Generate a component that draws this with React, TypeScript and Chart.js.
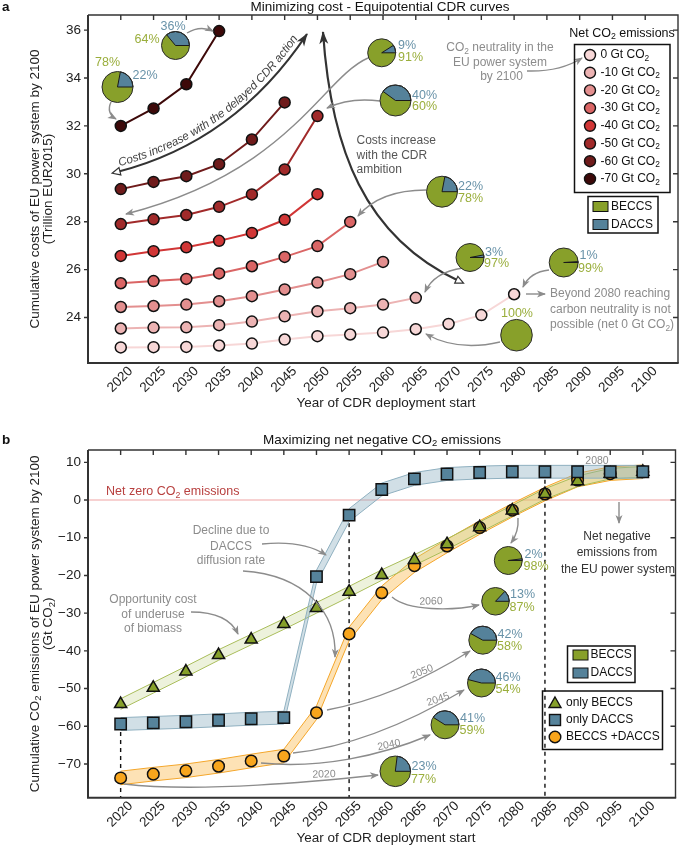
import React, { useEffect, useRef } from 'react';
import { Chart, registerables } from 'chart.js';

Chart.register(...registerables);

const FONT = '"Liberation Sans", Arial, Helvetica, sans-serif';

// ---------------- shared ----------------
const yearTicks = [2020, 2025, 2030, 2035, 2040, 2045, 2050, 2055, 2060, 2065, 2070, 2075, 2080, 2085, 2090, 2095, 2100];

// ---------------- panel a data ----------------
const costTicks = [24, 26, 28, 30, 32, 34, 36];
const netLabels = ['0 Gt CO₂', '-10 Gt CO₂', '-20 Gt CO₂', '-30 Gt CO₂', '-40 Gt CO₂', '-50 Gt CO₂', '-60 Gt CO₂', '-70 Gt CO₂'];
const netColors = ['#f7d7d7', '#ecb3b3', '#e38f8f', '#da6565', '#d13636', '#a12a2a', '#6f1b1b', '#3d0909'];
const cost0 = [22.75, 22.76, 22.77, 22.83, 22.91, 23.08, 23.22, 23.29, 23.37, 23.51, 23.73, 24.10, 24.97];
const costM10 = [23.54, 23.58, 23.59, 23.68, 23.83, 24.05, 24.26, 24.39, 24.54, 24.82];
const costM20 = [24.44, 24.48, 24.54, 24.68, 24.89, 25.17, 25.46, 25.81, 26.32];
const costM30 = [25.43, 25.52, 25.61, 25.84, 26.14, 26.53, 26.98, 27.99];
const costM40 = [26.57, 26.77, 26.93, 27.20, 27.53, 28.08, 29.15];
const costM50 = [27.90, 28.10, 28.28, 28.62, 29.14, 30.18, 32.41];
const costM60 = [29.36, 29.66, 29.90, 30.40, 31.43, 32.98];
const costM70 = [32.00, 32.73, 33.74, 35.96];
const costSeries = [cost0, costM10, costM20, costM30, costM40, costM50, costM60, costM70];
// DACCS share (%) of the CDR mix shown by the inset pies of panel a
const piesADaccs = [22, 36, 9, 40, 22, 3, 1, 0];

// ---------------- panel b data ----------------
const emisTicks = [-70, -60, -50, -40, -30, -20, -10, 0, 10];
const onlyBeccs = [-54.1, -49.8, -45.5, -41.1, -37.0, -32.9, -28.6, -24.3, -19.9, -15.9, -11.7, -7.2, -2.8, 1.6, 5.0, 7.0, 7.5];
const onlyDaccs = [-59.4, -59.1, -58.8, -58.4, -58.0, -57.7, -20.3, -4.0, 2.8, 5.6, 6.9, 7.3, 7.5, 7.5, 7.5, 7.5, 7.5];
const beccsDaccs = [-73.7, -72.7, -71.8, -70.6, -69.2, -67.9, -56.4, -35.5, -24.6, -17.4, -12.2, -7.3, -2.7, 1.6, 5.3, 7.0, 7.5];
const piesBDaccs = [2, 13, 42, 46, 41, 23];
const piesBYears = ['2080', '2060', '2050', '2045', '2040', '2020'];
const markedYears = [2020, 2055, 2085];

// ---------------- styles ----------------
const GRAY = '#8c8c8c';
const DARK = '#333333';
const PIE_G = '#88a02a';
const PIE_B = '#55829a';
const TXT_G = '#9aae3c';
const TXT_B = '#6892a8';
const TRI = '#86a02a';
const SQ = '#56839b';
const CIR = '#f8a51c';

// ---------------- drawing helpers ----------------
function rich(ctx: any, s: string, x: number, y: number, o: any = {}) {
  const size = o.size || 12;
  const f = (sz: number) => `${o.style || 'normal'} ${o.weight || 'normal'} ${sz}px ${FONT}`;
  const parts = s.split('₂');
  ctx.save();
  ctx.textBaseline = o.baseline || 'middle';
  ctx.fillStyle = o.color || '#222';
  const segs: any[] = [];
  let total = 0;
  parts.forEach((p, i) => {
    ctx.font = f(size);
    const w = ctx.measureText(p).width;
    segs.push({ t: p, sz: size, dy: 0, w });
    total += w;
    if (i < parts.length - 1) {
      ctx.font = f(size * 0.7);
      const w2 = ctx.measureText('2').width;
      segs.push({ t: '2', sz: size * 0.7, dy: size * 0.28, w: w2 });
      total += w2;
    }
  });
  const align = o.align || 'left';
  ctx.translate(x, y);
  if (o.rot) ctx.rotate(o.rot);
  let cx = align === 'center' ? -total / 2 : align === 'right' ? -total : 0;
  ctx.textAlign = 'left';
  for (const sg of segs) {
    ctx.font = f(sg.sz);
    ctx.fillText(sg.t, cx, sg.dy);
    cx += sg.w;
  }
  ctx.restore();
}

function arrow(ctx: any, p: number[], color: string, width = 1.4, head = 8, headW = 3.5) {
  ctx.save();
  ctx.strokeStyle = color;
  ctx.fillStyle = color;
  ctx.lineWidth = width;
  ctx.lineCap = 'butt';
  ctx.beginPath();
  ctx.moveTo(p[0], p[1]);
  let px, py, ex, ey;
  if (p.length === 4) {
    ctx.lineTo(p[2], p[3]);
    px = p[0]; py = p[1]; ex = p[2]; ey = p[3];
  } else if (p.length === 6) {
    ctx.quadraticCurveTo(p[2], p[3], p[4], p[5]);
    px = p[2]; py = p[3]; ex = p[4]; ey = p[5];
  } else {
    ctx.bezierCurveTo(p[2], p[3], p[4], p[5], p[6], p[7]);
    px = p[4]; py = p[5]; ex = p[6]; ey = p[7];
  }
  ctx.stroke();
  const a = Math.atan2(ey - py, ex - px);
  const c = Math.cos(a), s = Math.sin(a);
  ctx.beginPath();
  ctx.moveTo(ex + c, ey + s);
  ctx.lineTo(ex - head * c + headW * s, ey - head * s - headW * c);
  ctx.lineTo(ex - head * 0.7 * c, ey - head * 0.7 * s);
  ctx.lineTo(ex - head * c - headW * s, ey - head * s + headW * c);
  ctx.closePath();
  ctx.fill();
  ctx.restore();
}

function openTri(ctx: any, x: number, y: number, ang: number, s: number) {
  ctx.save();
  ctx.translate(x, y);
  ctx.rotate(ang);
  ctx.beginPath();
  ctx.moveTo(s, 0);
  ctx.lineTo(-s * 0.6, -s * 0.75);
  ctx.lineTo(-s * 0.6, s * 0.75);
  ctx.closePath();
  ctx.fillStyle = '#fff';
  ctx.fill();
  ctx.strokeStyle = DARK;
  ctx.lineWidth = 1.2;
  ctx.stroke();
  ctx.restore();
}

function textOnQuad(ctx: any, s: string, p0: number[], c: number[], p1: number[], off: number, size: number, color: string, startS: number, maxLen: number) {
  const N = 400;
  const P: any[] = [{ x: p0[0], y: p0[1], s: 0 }];
  let L = 0;
  for (let i = 1; i <= N; i++) {
    const t = i / N, u = 1 - t;
    const x = u * u * p0[0] + 2 * u * t * c[0] + t * t * p1[0];
    const y = u * u * p0[1] + 2 * u * t * c[1] + t * t * p1[1];
    const pr = P[P.length - 1];
    L += Math.hypot(x - pr.x, y - pr.y);
    P.push({ x, y, s: L });
  }
  ctx.save();
  let fs = size;
  ctx.font = `italic ${fs}px ${FONT}`;
  const tw = ctx.measureText(s).width;
  if (tw > maxLen) {
    fs = (fs * maxLen) / tw;
    ctx.font = `italic ${fs}px ${FONT}`;
  }
  ctx.fillStyle = color;
  ctx.textAlign = 'center';
  ctx.textBaseline = 'alphabetic';
  let pos = startS;
  for (const ch of s) {
    const w = ctx.measureText(ch).width;
    const m = pos + w / 2;
    let j = 1;
    while (j < P.length - 1 && P[j].s < m) j++;
    const a = P[j - 1], b = P[j];
    const ang = Math.atan2(b.y - a.y, b.x - a.x);
    const fr = (m - a.s) / Math.max(1e-6, b.s - a.s);
    const x = a.x + (b.x - a.x) * fr + off * Math.sin(ang);
    const y = a.y + (b.y - a.y) * fr - off * Math.cos(ang);
    ctx.save();
    ctx.translate(x, y);
    ctx.rotate(ang);
    ctx.fillText(ch, 0, 0);
    ctx.restore();
    pos += w;
  }
  ctx.restore();
}

function pie(ctx: any, cx: number, cy: number, r: number, daccs: number) {
  ctx.save();
  ctx.beginPath();
  ctx.arc(cx, cy, r, 0, Math.PI * 2);
  ctx.fillStyle = PIE_G;
  ctx.fill();
  if (daccs > 0) {
    ctx.beginPath();
    ctx.moveTo(cx, cy);
    ctx.arc(cx, cy, r, 0, (-2 * Math.PI * daccs) / 100, true);
    ctx.closePath();
    ctx.fillStyle = PIE_B;
    ctx.fill();
    ctx.strokeStyle = '#1a1a1a';
    ctx.lineWidth = 1;
    ctx.stroke();
  }
  ctx.beginPath();
  ctx.arc(cx, cy, r, 0, Math.PI * 2);
  ctx.strokeStyle = '#2a2a2a';
  ctx.lineWidth = 1;
  ctx.stroke();
  ctx.restore();
}

function pieWithLabels(ctx: any, L: any, daccs: number) {
  pie(ctx, L.x, L.y, L.r, daccs);
  if (L.b) rich(ctx, `${daccs}%`, L.b[0], L.b[1], { size: 12.5, color: TXT_B, align: L.b[2] || 'left' });
  if (L.g) rich(ctx, `${100 - daccs}%`, L.g[0], L.g[1], { size: 12.5, color: TXT_G, align: L.g[2] || 'left' });
}

function drawFrame(ctx: any, chart: any, yticks: number[], fmt: (v: number) => string) {
  const { left, right, top, bottom } = chart.chartArea;
  const xs = chart.scales.x, ys = chart.scales.y;
  ctx.save();
  ctx.strokeStyle = DARK;
  ctx.lineWidth = 1.4;
  ctx.beginPath();
  ctx.moveTo(left, top);
  ctx.lineTo(right, top);
  ctx.lineTo(right, bottom);
  for (const yr of yearTicks) {
    const x = xs.getPixelForValue(yr);
    ctx.moveTo(x, top);
    ctx.lineTo(x, top + 5);
  }
  for (const v of yticks) {
    const y = ys.getPixelForValue(v);
    ctx.moveTo(left - 4, y);
    ctx.lineTo(left, y);
    ctx.moveTo(right, y);
    ctx.lineTo(right - 5, y);
  }
  ctx.stroke();
  ctx.lineWidth = 2;
  ctx.beginPath();
  ctx.moveTo(left, top);
  ctx.lineTo(left, bottom);
  ctx.lineTo(right + 0.7, bottom);
  ctx.stroke();
  ctx.fillStyle = '#222';
  ctx.font = `13.5px ${FONT}`;
  ctx.textAlign = 'right';
  ctx.textBaseline = 'middle';
  for (const v of yticks) ctx.fillText(fmt(v), left - 7, ys.getPixelForValue(v));
  for (const yr of yearTicks) {
    const x = xs.getPixelForValue(yr);
    ctx.save();
    ctx.translate(x + 10, bottom + 6);
    ctx.rotate(-Math.PI / 4);
    ctx.fillText(String(yr), 0, 0);
    ctx.restore();
  }
  ctx.restore();
}

// ---------------- panel a layout (pixels on canvas a) ----------------
const pieLayoutA = [
  { x: 117.5, y: 87, r: 15.5, g: [107.5, 63, 'center'], b: [145, 76, 'center'] },
  { x: 175.5, y: 45.5, r: 14, g: [147, 40, 'center'], b: [173, 27, 'center'] },
  { x: 381.7, y: 52.8, r: 14, b: [398, 46], g: [398, 57.5] },
  { x: 395.5, y: 100.5, r: 15.5, b: [412, 95.5], g: [412, 107] },
  { x: 442, y: 191.7, r: 15.5, b: [458, 187], g: [458, 199] },
  { x: 470, y: 257.5, r: 14, b: [485, 252.5], g: [484, 263.5] },
  { x: 563.7, y: 262.5, r: 14.5, b: [579.5, 256], g: [578, 268.5] },
  { x: 516.5, y: 335.2, r: 15.8, g: [517, 313.3, 'center'] },
];

// ---------------- panel b layout (page pixels) ----------------
const pieLayoutB = [
  { x: 508.3, y: 560.5, r: 14, b: [524.5, 555], g: [523.5, 566.7] },
  { x: 495.5, y: 601.3, r: 13.8, b: [510, 595], g: [509.5, 607.7] },
  { x: 482.8, y: 640.2, r: 14, b: [497.5, 635], g: [497, 646.7] },
  { x: 481.5, y: 683, r: 14, b: [495.5, 677.3], g: [495.5, 690] },
  { x: 445, y: 724.8, r: 14, b: [460, 719], g: [459.5, 731] },
  { x: 395.3, y: 771.3, r: 15.3, b: [411.5, 766.7], g: [411, 780] },
];
const yearLabelLayoutB = [
  null,
  { x: 431, y: 601.5, rot: -0.03 },
  { x: 422, y: 672, rot: -0.38 },
  { x: 438, y: 699.5, rot: -0.33 },
  { x: 389, y: 745, rot: -0.2 },
  { x: 324, y: 774.5, rot: -0.04 },
];
const yearArrowsB = [
  [518, 518, 519, 532, 511, 543],
  [392, 597, 408, 611, 452, 611, 479, 605],
  [327, 710, 380, 700, 430, 676, 470, 651],
  [293, 753, 360, 746, 420, 716, 464, 690],
  [261, 763, 320, 769, 380, 756, 430, 735],
  [124, 784, 200, 793, 320, 781, 378, 775],
];

// ---------------- plugins ----------------
const overlayA = {
  id: 'overlayA',
  afterDraw(chart: any) {
    const ctx = chart.ctx;
    const { top, bottom } = chart.chartArea;
    drawFrame(ctx, chart, costTicks, (v) => String(v));

    // titles
    rich(ctx, 'a', 2, 7, { size: 13.5, weight: 'bold', color: '#111' });
    rich(ctx, 'Minimizing cost - Equipotential CDR curves', 380, 7, { size: 13.5, align: 'center', color: '#111' });
    const midY = (top + bottom) / 2;
    rich(ctx, 'Cumulative costs of EU power system by 2100', 35, midY, { size: 13.5, align: 'center', rot: -Math.PI / 2 });
    rich(ctx, '(Trillion EUR2015)', 48.5, midY, { size: 13.5, align: 'center', rot: -Math.PI / 2 });
    rich(ctx, 'Year of CDR deployment start', 386, 403.5, { size: 13.5, align: 'center' });

    // big dark arrows
    ctx.save();
    ctx.strokeStyle = DARK;
    arrow(ctx, [117, 172, 235, 142, 307, 34], DARK, 2.2, 12, 4.5);
    openTri(ctx, 117, 172, Math.atan2(142 - 172, 235 - 117) + Math.PI, 5);
    textOnQuad(ctx, 'Costs increase with the delayed CDR action', [117, 172], [235, 142], [307, 34], 5, 12, '#444', 4, 228);
    arrow(ctx, [459, 281, 365, 237, 331, 150, 323, 32], DARK, 2.2, 12, 4.5);
    openTri(ctx, 459, 281, Math.atan2(281 - 237, 459 - 365), 5);
    ctx.restore();
    rich(ctx, 'Costs increase', 356.5, 141, { size: 12, color: '#555' });
    rich(ctx, 'with the CDR', 356.5, 155.7, { size: 12, color: '#555' });
    rich(ctx, 'ambition', 356.5, 170, { size: 12, color: '#555' });

    // gray annotation text
    rich(ctx, 'CO₂ neutrality in the', 500, 48, { size: 12, color: GRAY, align: 'center' });
    rich(ctx, 'EU power system', 500, 62.5, { size: 12, color: GRAY, align: 'center' });
    rich(ctx, 'by 2100', 501.5, 77, { size: 12, color: GRAY, align: 'center' });
    rich(ctx, 'Beyond 2080 reaching', 550, 294, { size: 12, color: GRAY });
    rich(ctx, 'carbon neutrality is not', 550, 309.5, { size: 12, color: GRAY });
    rich(ctx, 'possible (net 0 Gt CO₂)', 550, 325, { size: 12, color: GRAY });

    // gray arrows
    arrow(ctx, [187, 33, 200, 25, 213, 31], GRAY);
    arrow(ctx, [111, 102, 106, 113, 116, 119], GRAY);
    arrow(ctx, [368, 58, 322, 78, 290, 172, 126, 214], GRAY);
    arrow(ctx, [380, 101, 350, 97, 327, 108], GRAY);
    arrow(ctx, [426, 190, 380, 190, 358, 216], GRAY);
    arrow(ctx, [463, 268, 434, 272, 425, 292], GRAY);
    arrow(ctx, [549, 270, 530, 272, 523, 287], GRAY);
    arrow(ctx, [500, 342, 458, 352, 426, 334], GRAY);
    arrow(ctx, [527, 71, 560, 72, 582, 58], GRAY);
    arrow(ctx, [526, 294, 545, 294], GRAY);

    // pies
    piesADaccs.forEach((d, i) => pieWithLabels(ctx, pieLayoutA[i], d));

    // legend: net CO2
    ctx.save();
    rich(ctx, 'Net CO₂ emissions', 622, 33.5, { size: 12.5, align: 'center', color: '#111' });
    ctx.strokeStyle = '#111';
    ctx.lineWidth = 1.5;
    ctx.strokeRect(574.5, 44.5, 95.5, 148);
    netLabels.forEach((lab, i) => {
      const y = 55 + i * 17.7;
      ctx.beginPath();
      ctx.arc(590, y, 5.5, 0, Math.PI * 2);
      ctx.fillStyle = netColors[i];
      ctx.fill();
      ctx.lineWidth = 1.4;
      ctx.strokeStyle = '#111';
      ctx.stroke();
      rich(ctx, lab, 600.5, y, { size: 12, color: '#111' });
    });
    // legend: BECCS/DACCS
    ctx.lineWidth = 1.5;
    ctx.strokeRect(588, 196.5, 70, 36.5);
    [['BECCS', PIE_G, 206.5], ['DACCS', PIE_B, 224.5]].forEach(([lab, col, y]: any) => {
      ctx.fillStyle = col;
      ctx.fillRect(593, y - 5, 15, 10);
      ctx.lineWidth = 1;
      ctx.strokeStyle = '#111';
      ctx.strokeRect(593, y - 5, 15, 10);
      rich(ctx, lab, 611, y, { size: 12, color: '#111' });
    });
    ctx.restore();
  },
};

const underlayB = {
  id: 'underlayB',
  beforeDatasetsDraw(chart: any) {
    const ctx = chart.ctx;
    const { left, right, bottom } = chart.chartArea;
    const xs = chart.scales.x, ys = chart.scales.y;
    ctx.save();
    ctx.strokeStyle = '#f4c2c2';
    ctx.lineWidth = 1.5;
    ctx.beginPath();
    const y0 = ys.getPixelForValue(0);
    ctx.moveTo(left, y0);
    ctx.lineTo(right, y0);
    ctx.stroke();
    ctx.strokeStyle = '#111';
    ctx.lineWidth = 1.4;
    ctx.setLineDash([4, 4]);
    for (const yr of markedYears) {
      const i = yearTicks.indexOf(yr);
      const x = xs.getPixelForValue(yr);
      ctx.beginPath();
      ctx.moveTo(x, ys.getPixelForValue(onlyDaccs[i]));
      ctx.lineTo(x, bottom);
      ctx.stroke();
    }
    ctx.restore();
  },
};

const overlayB = {
  id: 'overlayB',
  afterDraw(chart: any) {
    const ctx = chart.ctx;
    const { top, bottom } = chart.chartArea;
    drawFrame(ctx, chart, emisTicks, (v) => (v < 0 ? '−' + Math.abs(v) : String(v)));
    const midY = (top + bottom) / 2;
    rich(ctx, 'Cumulative CO₂ emissions of EU power system by 2100', 35, midY, { size: 13.5, align: 'center', rot: -Math.PI / 2 });
    rich(ctx, '(Gt CO₂)', 48.5, midY, { size: 13.5, align: 'center', rot: -Math.PI / 2 });

    ctx.save();
    ctx.translate(0, -420); // page coordinates below
    rich(ctx, 'b', 2, 440, { size: 13.5, weight: 'bold', color: '#111' });
    rich(ctx, 'Maximizing net negative CO₂ emissions', 382, 440, { size: 13.5, align: 'center', color: '#111' });
    rich(ctx, 'Year of CDR deployment start', 386, 838.5, { size: 13.5, align: 'center' });

    rich(ctx, 'Net zero CO₂ emissions', 106, 492, { size: 12.5, color: '#b8403f' });
    rich(ctx, 'Decline due to', 231, 531, { size: 12, color: GRAY, align: 'center' });
    rich(ctx, 'DACCS', 231, 546.5, { size: 12, color: GRAY, align: 'center' });
    rich(ctx, 'diffusion rate', 231, 561, { size: 12, color: GRAY, align: 'center' });
    rich(ctx, 'Opportunity cost', 153, 600, { size: 12, color: GRAY, align: 'center' });
    rich(ctx, 'of underuse', 153, 614.5, { size: 12, color: GRAY, align: 'center' });
    rich(ctx, 'of biomass', 153, 629, { size: 12, color: GRAY, align: 'center' });
    rich(ctx, 'Net negative', 617, 537, { size: 12, color: '#333', align: 'center' });
    rich(ctx, 'emissions from', 617, 553, { size: 12, color: '#333', align: 'center' });
    rich(ctx, 'the EU power system', 618, 569.5, { size: 12, color: '#333', align: 'center' });
    rich(ctx, '2080', 597, 461, { size: 10.5, color: GRAY, align: 'center' });

    arrow(ctx, [262, 544, 303, 540, 326, 555], GRAY);
    arrow(ctx, [243, 571, 305, 575, 337, 612, 335, 657], GRAY);
    arrow(ctx, [191, 612, 228, 612, 238, 634], GRAY);
    arrow(ctx, [619, 502, 619, 523], GRAY);

    yearArrowsB.forEach((p) => arrow(ctx, p, GRAY));
    piesBYears.forEach((yl, i) => {
      const L = yearLabelLayoutB[i];
      if (L) rich(ctx, yl, L.x, L.y, { size: 10.5, color: GRAY, align: 'center', rot: L.rot });
    });
    piesBDaccs.forEach((d, i) => pieWithLabels(ctx, pieLayoutB[i], d));

    // legend BECCS / DACCS
    ctx.strokeStyle = '#111';
    ctx.lineWidth = 1.5;
    ctx.strokeRect(567.5, 646, 67.5, 36.5);
    [['BECCS', PIE_G, 655], ['DACCS', PIE_B, 673]].forEach(([lab, col, y]: any) => {
      ctx.fillStyle = col;
      ctx.fillRect(573, y - 5, 15, 10);
      ctx.lineWidth = 1;
      ctx.strokeStyle = '#111';
      ctx.strokeRect(573, y - 5, 15, 10);
      rich(ctx, lab, 590.5, y, { size: 12, color: '#111' });
    });
    // legend markers
    ctx.lineWidth = 1.5;
    ctx.strokeRect(542.5, 691, 120, 58.5);
    ctx.lineWidth = 1.4;
    ctx.strokeStyle = '#111';
    ctx.beginPath();
    ctx.moveTo(555, 697);
    ctx.lineTo(561, 707.5);
    ctx.lineTo(549, 707.5);
    ctx.closePath();
    ctx.fillStyle = TRI;
    ctx.fill();
    ctx.stroke();
    ctx.fillStyle = SQ;
    ctx.fillRect(549.5, 714.5, 11, 11);
    ctx.strokeRect(549.5, 714.5, 11, 11);
    ctx.beginPath();
    ctx.arc(555, 737, 5.8, 0, Math.PI * 2);
    ctx.fillStyle = CIR;
    ctx.fill();
    ctx.stroke();
    rich(ctx, 'only BECCS', 566, 703, { size: 12, color: '#111' });
    rich(ctx, 'only DACCS', 566, 720, { size: 12, color: '#111' });
    rich(ctx, 'BECCS +DACCS', 566, 737, { size: 12, color: '#111' });
    ctx.restore();
  },
};

// ---------------- chart configs ----------------
const xy = (vals: number[]) => vals.map((v, i) => ({ x: yearTicks[i], y: v }));

function configA(): any {
  const datasets = costSeries.map((vals, i) => ({
    label: netLabels[i],
    data: xy(vals),
    borderColor: netColors[i],
    backgroundColor: netColors[i],
    pointBackgroundColor: netColors[i],
    pointBorderColor: '#111',
    pointBorderWidth: 1.5,
    pointRadius: 5.5,
    borderWidth: 2,
    tension: 0,
    fill: false,
  }));
  return {
    type: 'line',
    data: { datasets },
    options: {
      animation: false,
      responsive: false,
      devicePixelRatio: 1,
      events: [],
      layout: { padding: { left: 88, right: 2, top: 15, bottom: 57 } },
      plugins: { legend: { display: false }, tooltip: { enabled: false }, title: { display: false } },
      scales: {
        x: { type: 'linear', display: false, min: 2015, max: 2105 },
        y: { type: 'linear', display: false, min: 22.1, max: 36.63 },
      },
    },
    plugins: [overlayA],
  };
}

function configB(): any {
  const markers = (vals: number[], style: string, color: string, r: number, label: string) => ({
    label,
    data: xy(vals),
    showLine: false,
    pointStyle: style,
    pointRadius: r,
    pointBackgroundColor: color,
    pointBorderColor: '#111',
    pointBorderWidth: 1.5,
    order: 1,
  });
  const band = (vals: number[], h: number, edge: string, fillCol: string) => [
    {
      data: vals.map((v, i) => ({ x: yearTicks[i], y: v + h })),
      borderColor: edge,
      borderWidth: 1,
      pointRadius: 0,
      fill: false,
      tension: 0,
      borderJoinStyle: 'round',
      order: 10,
    },
    {
      data: vals.map((v, i) => ({ x: yearTicks[i], y: v - h })),
      borderColor: edge,
      borderWidth: 1,
      pointRadius: 0,
      fill: '-1',
      backgroundColor: fillCol,
      tension: 0,
      borderJoinStyle: 'round',
      order: 10,
    },
  ];
  const datasets = [
    markers(onlyDaccs, 'rect', SQ, 8, 'only DACCS'),
    markers(onlyBeccs, 'triangle', TRI, 7, 'only BECCS'),
    markers(beccsDaccs, 'circle', CIR, 5.8, 'BECCS +DACCS'),
    ...band(onlyDaccs, 1.7, '#8fb0c0', 'rgba(135,170,188,0.38)'),
    ...band(onlyBeccs, 1.4, '#a9bd5a', 'rgba(190,208,130,0.28)'),
    ...band(beccsDaccs, 1.8, '#f4a62a', 'rgba(251,180,60,0.38)'),
  ];
  return {
    type: 'line',
    data: { datasets },
    options: {
      animation: false,
      responsive: false,
      devicePixelRatio: 1,
      events: [],
      layout: { padding: { left: 88, right: 2, top: 30, bottom: 47.3 } },
      plugins: { legend: { display: false }, tooltip: { enabled: false }, title: { display: false } },
      scales: {
        x: { type: 'linear', display: false, min: 2015, max: 2105 },
        y: { type: 'linear', display: false, min: -78.94, max: 13.27 },
      },
    },
    plugins: [underlayB, overlayB],
  };
}

export default function App() {
  const refA = useRef<HTMLCanvasElement>(null);
  const refB = useRef<HTMLCanvasElement>(null);
  useEffect(() => {
    document.body.style.margin = '0';
    const a = new Chart(refA.current as HTMLCanvasElement, configA());
    const b = new Chart(refB.current as HTMLCanvasElement, configB());
    return () => {
      a.destroy();
      b.destroy();
    };
  }, []);
  return (
    <div style={{ position: 'relative', width: 685, height: 845, background: '#fff' }}>
      <canvas ref={refA} width={685} height={420} style={{ position: 'absolute', left: 0, top: 0 }} />
      <canvas ref={refB} width={685} height={425} style={{ position: 'absolute', left: 0, top: 420 }} />
    </div>
  );
}
